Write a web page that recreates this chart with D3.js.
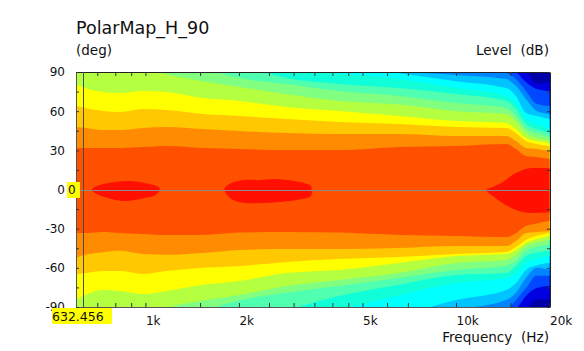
<!DOCTYPE html>
<html lang="en">

<head>
  <meta charset="UTF-8">
  <title>PolarMap_H_90</title>
  <script src="https://d3js.org/d3.v7.min.js"></script>
  <style>
    html, body { margin: 0; padding: 0; background: #fff; }
    svg { display: block; }
    text { font-family: "DejaVu Sans", sans-serif; fill: #111; white-space: pre; }
  </style>
</head>

<body>
  <svg width="584" height="351"></svg>
  <script>
    // frequency columns the contour edges were read at (Hz)
    const freqs = [600, 640, 730, 830, 980, 1170, 1530, 2010, 2850, 4210, 6570, 10000, 14500, 15600, 16800, 18200, 20000]

    // upper edge (deg) of each level band, 1 = loudest
    const up1 = [31.8, 31.8, 31.8, 31.8, 32.5, 33.3, 31.8, 31, 30.2, 30.2, 32.5, 33.3, 34.8, 31, 25.7, 24.9, 23.4]
    const up2 = [47.9, 47.1, 45.6, 45.6, 47.1, 47.9, 46.3, 44.8, 43.3, 42.5, 42.5, 41, 41, 37.1, 31.8, 31, 29.5]
    const up3 = [63.9, 62.4, 60.1, 59.3, 61.6, 60.9, 57.8, 56.3, 54, 51.7, 50.2, 47.9, 47.1, 43.3, 37.1, 34.8, 33.3]
    const up4 = [80.8, 77.7, 74.7, 73.9, 75.4, 74.7, 70, 67.8, 63.2, 60.1, 56.3, 52.5, 50.9, 46.3, 39.4, 37.1, 35.6]
    const up5 = [100, 100, 100, 100, 95, 88.4, 83, 78.5, 73, 67.8, 65.1, 60, 57.8, 52.5, 43.3, 39.4, 37.9]
    const up6 = [100, 100, 100, 100, 100, 100, 93, 85.4, 80.8, 75.4, 71.6, 66.2, 62.4, 56.3, 46.3, 43.3, 40.2]
    const up7 = [100, 100, 100, 100, 100, 100, 100, 95, 85.4, 80.8, 77.7, 73.1, 67.8, 61.6, 50.2, 46.3, 43.3]
    const up8 = [100, 100, 100, 100, 100, 100, 100, 100, 95, 89, 84.6, 77.7, 71.6, 65.5, 54, 50.2, 46.3]
    const up9 = [100, 100, 100, 100, 100, 100, 100, 100, 100, 96, 89, 83, 77.7, 71.6, 58.6, 56.3, 54]
    const up10 = [100, 100, 100, 100, 100, 100, 100, 100, 100, 100, 91, 87.7, 84.6, 79.2, 69.3, 60.1, 57.8]
    const up11 = [100, 100, 100, 100, 100, 100, 100, 100, 100, 100, 100, 91, 89.2, 84.6, 75.4, 65.5, 63.9]
    const up12 = [100, 100, 100, 100, 100, 100, 100, 100, 100, 100, 100, 100, 95, 90, 82.3, 77, 75.4]
    const up13 = [100, 100, 100, 100, 100, 100, 100, 100, 100, 100, 100, 100, 100, 95, 91, 80.8, 82.3]

    // lower edge (deg) of each level band
    const lo1 = [-33.3, -33.3, -32.5, -33.3, -34, -34.8, -34.8, -33, -32.5, -33, -34.8, -35.6, -36.4, -33.3, -28, -26, -24]
    const lo2 = [-52, -50, -48, -47, -49.4, -50, -48.6, -46.3, -45.6, -45.6, -44.8, -43.3, -43.3, -39.4, -33.3, -32.5, -31.8]
    const lo3 = [-65, -64, -62.4, -62.4, -64.7, -62.4, -60, -58.6, -55.5, -53.2, -51.7, -49.4, -47.9, -44, -38.6, -35.5, -33.3]
    const lo4 = [-84, -80.8, -77, -77.7, -80, -77.7, -73, -70, -64, -61.6, -56.3, -51, -49.4, -46.3, -41, -38, -35.6]
    const lo5 = [-100, -100, -100, -100, -100, -91, -85, -80.8, -74, -69.3, -64, -56.3, -54, -50, -43.3, -40.5, -38.7]
    const lo6 = [-100, -100, -100, -100, -100, -100, -93, -85, -79, -74, -67.8, -61.6, -58.6, -54.8, -47, -44, -42.5]
    const lo7 = [-100, -100, -100, -100, -100, -100, -100, -100, -92, -81.5, -73, -65.5, -64, -58.6, -51, -48.5, -47]
    const lo8 = [-100, -100, -100, -100, -100, -100, -100, -100, -100, -92, -81, -71.6, -67.8, -64, -56.3, -53, -51]
    const lo9 = [-100, -100, -100, -100, -100, -100, -100, -100, -100, -100, -96, -84.6, -77, -71.6, -61.6, -58, -56.3]
    const lo10 = [-100, -100, -100, -100, -100, -100, -100, -100, -100, -100, -100, -92, -84.6, -79, -67.8, -60, -61.6]
    const lo11 = [-100, -100, -100, -100, -100, -100, -100, -100, -100, -100, -100, -100, -92, -84.6, -75.5, -66, -66]
    const lo12 = [-100, -100, -100, -100, -100, -100, -100, -100, -100, -100, -100, -100, -100, -92, -81.5, -75.5, -74]
    const lo13 = [-100, -100, -100, -100, -100, -100, -100, -100, -100, -100, -100, -100, -100, -100, -92, -84, -84]

    // red islands around 0 deg
    const blob1Freq = [672, 713, 797, 890, 995, 1087, 1112, 1079, 995, 858, 756, 697]
    const blob1Deg = [0, 3.4, 5.7, 6.5, 5, 2.7, 0, -4.2, -6.5, -8.8, -6.5, -3.4]
    const blob2Freq = [1798, 1893, 2084, 2331, 2603, 3024, 3378, 3425, 3378, 2911, 2417, 2084, 1893]
    const blob2Deg = [0, 5, 7.3, 7.3, 8, 6.5, 3.4, 0, -5.7, -8.8, -10.3, -10.3, -7.3]
    const blob3Freq = [12500, 13800, 15600, 17500, 20000]
    const blob3Up = [0, 4.2, 12.6, 16.4, 16.4]
    const blob3Lo = [-1, -8.8, -15.7, -18, -17.5]

    const xTicks = [700, 800, 900, 1000, 1500, 2000, 2500, 3000, 3500, 4000, 4500, 5000, 6000, 7000, 10000, 15000, 20000]
    const xLabels = { 1000: "1k", 2000: "2k", 5000: "5k", 10000: "10k", 20000: "20k" }
    const yTicks = [-90, -60, -30, 0, 30, 60, 90]
    const yMinorTicks = [-75, -45, -15, 15, 45, 75]
    const cursorFreq = 632.456
    const cursorDeg = 0

    const edges = [
      [up13, lo13], [up12, lo12], [up11, lo11], [up10, lo10], [up9, lo9], [up8, lo8], [up7, lo7],
      [up6, lo6], [up5, lo5], [up4, lo4], [up3, lo3], [up2, lo2], [up1, lo1]
    ]
    // outermost first; the first one is what is left outside every edge
    const colors = ["#0000a8", "#0000e0", "#0048ff", "#0084ff", "#00c4ff", "#00ffff", "#10ffd8", "#50ffb0",
      "#80ff80", "#b4ff40", "#ffff00", "#ffc800", "#ff8c00", "#ff5000"]
    const red = "#ff1000"

    const svg = d3.select("svg")
    const x = d3.scaleLog().domain([600, 20000]).range([76.5, 549.5])
    const y = d3.scaleLinear().domain([-90, 90]).range([307, 72])

    svg.append("clipPath").attr("id", "plot").append("rect")
      .attr("x", 76).attr("y", 72).attr("width", 474).attr("height", 235)

    const map = svg.append("g").attr("clip-path", "url(#plot)")

    map.append("rect").attr("x", 76).attr("y", 72).attr("width", 474).attr("height", 235).attr("fill", colors[0])

    //等高线色带，从外向内一层层盖
    const area = d3.area()
      .x(d => x(d.f))
      .y0(d => y(d.lo))
      .y1(d => y(d.up))
      .curve(d3.curveMonotoneX)

    edges.forEach(function (e, i) {
      map.append("path")
        .attr("d", area(freqs.map((f, j) => ({ f: f, up: e[0][j], lo: e[1][j] }))))
        .attr("fill", colors[i + 1])
    })

    const blobLine = d3.line()
      .x(d => x(d[0]))
      .y(d => y(d[1]))
      .curve(d3.curveCardinalClosed)

    map.append("path").attr("d", blobLine(d3.zip(blob1Freq, blob1Deg))).attr("fill", red)
    map.append("path").attr("d", blobLine(d3.zip(blob2Freq, blob2Deg))).attr("fill", red)
    map.append("path")
      .attr("d", area(blob3Freq.map((f, j) => ({ f: f, up: blob3Up[j], lo: blob3Lo[j] }))))
      .attr("fill", red)

    // axes, ticks point into the map
    const tickColor = "#333"
    function styleAxis(g, color) {
      g.selectAll("path.domain").attr("stroke", color)
      g.selectAll("line").attr("stroke", tickColor)
      g.selectAll("text").attr("font-family", null).attr("font-size", 12)
    }

    const axisBottom = svg.append("g").attr("transform", "translate(0,307)")
      .call(d3.axisBottom(x).tickValues(xTicks).tickSizeInner(-4).tickSizeOuter(0).tickPadding(9.5)
        .tickFormat(d => xLabels[d] || ""))
    styleAxis(axisBottom, "#555")
    axisBottom.selectAll("text").attr("text-anchor", "start")

    const axisTop = svg.append("g").attr("transform", "translate(0,72)")
      .call(d3.axisTop(x).tickValues(xTicks.slice(0, -1)).tickSizeInner(-4).tickSizeOuter(0).tickFormat(""))
    styleAxis(axisTop, "#222")

    const axisLeft = svg.append("g").attr("transform", "translate(76,0)")
      .call(d3.axisLeft(y).tickValues(yTicks).tickSizeInner(-3).tickSizeOuter(0).tickPadding(11)
        .tickFormat(d => d))
    styleAxis(axisLeft, "#555")

    svg.append("g").attr("transform", "translate(76,0)")
      .call(d3.axisLeft(y).tickValues(yMinorTicks).tickSizeInner(-3).tickSizeOuter(0).tickFormat(""))
      .call(styleAxis, "none")

    const axisRight = svg.append("g").attr("transform", "translate(550,0)")
      .call(d3.axisRight(y).tickValues(yTicks.concat(yMinorTicks)).tickSizeInner(-3).tickSizeOuter(0).tickFormat(""))
    styleAxis(axisRight, "#222")

    // cursor, snapped to a whole pixel row/column
    const cursorX = Math.round(x(cursorFreq)) - 0.5
    const cursorY = Math.round(y(cursorDeg)) + 0.5
    svg.append("line")
      .attr("x1", cursorX).attr("x2", cursorX)
      .attr("y1", 72).attr("y2", 308)
      .attr("stroke", "#4a4a4a").attr("stroke-width", 1)
    svg.append("line")
      .attr("x1", 76).attr("x2", 550)
      .attr("y1", cursorY).attr("y2", cursorY)
      .attr("stroke", "#8c8c8c").attr("stroke-width", 1)

    svg.append("rect").attr("x", 67).attr("y", 182).attr("width", 13).attr("height", 16).attr("fill", "#ffff00")
    svg.append("text").attr("x", 68).attr("y", 194).attr("font-size", 12).text(cursorDeg)

    svg.append("rect").attr("x", 52).attr("y", 308).attr("width", 60).attr("height", 16).attr("fill", "#ffff00")
    svg.append("text").attr("x", 52).attr("y", 321).attr("font-size", 12.5).text(cursorFreq)

    // titles
    svg.append("text").attr("x", 76).attr("y", 34).attr("font-size", 17.5).text("PolarMap_H_90")
    svg.append("text").attr("x", 76).attr("y", 55).attr("font-size", 13.5).text("(deg)")
    svg.append("text").attr("x", 549).attr("y", 55).attr("font-size", 13.6).attr("text-anchor", "end").text("Level  (dB)")
    svg.append("text").attr("x", 549).attr("y", 342).attr("font-size", 13.6).attr("text-anchor", "end").text("Frequency  (Hz)")
  </script>
</body>

</html>
